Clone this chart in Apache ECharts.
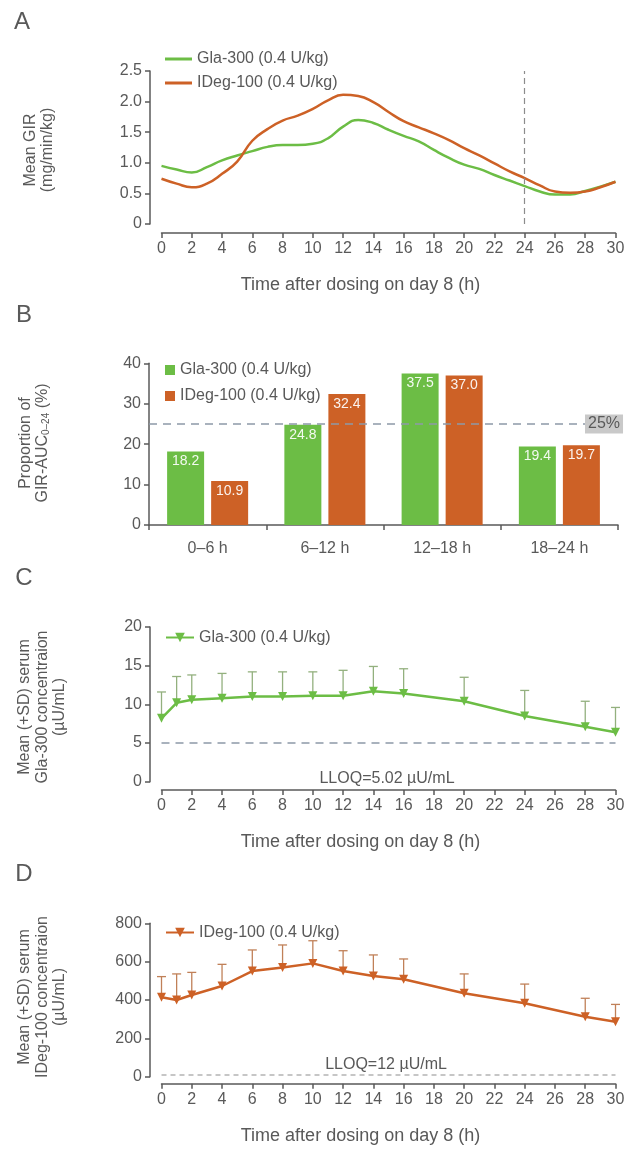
<!DOCTYPE html>
<html><head><meta charset="utf-8">
<script src="https://cdn.jsdelivr.net/npm/echarts@6/dist/echarts.min.js"></script>
<style>html,body{margin:0;padding:0;background:#fff;width:628px;height:1150px;overflow:hidden}.p{position:absolute;left:0;width:628px;}</style>
</head><body>
<div id="a" class="p" style="top:0;height:295px"></div>
<div id="b" class="p" style="top:295px;height:265px"></div>
<div id="c" class="p" style="top:560px;height:300px"></div>
<div id="d" class="p" style="top:860px;height:290px"></div>
<script>
// ---------- data ----------
const GLA = 'Gla-300 (0.4 U/kg)';
const IDEG = 'IDeg-100 (0.4 U/kg)';
const hoursA = [0,1,2,3,4,5,6,7,8,9,10,11,12,13,14,15,16,17,18,19,20,21,22,23,24,25,26,27,28,29,30];
const girGla = [0.95,0.89,0.84,0.93,1.04,1.12,1.19,1.26,1.29,1.29,1.31,1.40,1.59,1.70,1.65,1.54,1.44,1.35,1.21,1.08,0.97,0.90,0.80,0.71,0.62,0.53,0.48,0.48,0.54,0.61,0.69];
const girIDeg = [0.74,0.66,0.60,0.66,0.82,1.02,1.36,1.55,1.69,1.77,1.88,2.02,2.11,2.09,1.99,1.83,1.68,1.58,1.48,1.37,1.24,1.12,0.99,0.86,0.75,0.63,0.53,0.51,0.53,0.60,0.69];
const aucCategories = ['0–6 h','6–12 h','12–18 h','18–24 h'];
const aucGla = [18.2, 24.8, 37.5, 19.4];
const aucIDeg = [10.9, 32.4, 37.0, 19.7];
const aucReference = 25;
const pkHours = [0,1,2,4,6,8,10,12,14,16,20,24,28,30];
const glaMean = [8.2,10.2,10.6,10.8,11.0,11.0,11.1,11.1,11.7,11.4,10.4,8.5,7.1,6.4];
const glaUpper = [11.6,13.6,13.8,14.0,14.2,14.2,14.2,14.4,14.9,14.6,13.5,11.8,10.4,9.6];
const glaLLOQ = 5.02;
const idegMean = [414,400,426,473,551,570,591,551,525,508,435,383,313,287];
const idegUpper = [522,536,544,586,661,687,709,657,635,614,536,483,409,377];
const idegLLOQ = 12;
const xTitle = 'Time after dosing on day 8 (h)';

// ---------- styles ----------
const GREEN = '#6cbd45', ORANGE = '#cd6126', TXT = '#595959', AX = '#5a5a5a';
const FONT = '"Liberation Sans", Arial, sans-serif';

function timeAxis(offset){
  return {type:'value', min:0, max:30, interval:2, offset:offset,
    axisLine:{show:true,onZero:false,lineStyle:{color:AX,width:1.5}},
    axisTick:{show:true,length:5,lineStyle:{color:AX,width:1.5}},
    axisLabel:{color:TXT,fontSize:16,fontFamily:FONT,margin:8},
    splitLine:{show:false},
    name:xTitle, nameLocation:'middle', nameGap:43,
    nameTextStyle:{color:TXT,fontSize:18,fontFamily:FONT,padding:[0,56,0,0]}};
}
function valAxis(min,max,interval,offset,fmt){
  return {type:'value', min:min, max:max, interval:interval, offset:offset,
    axisLine:{show:true,onZero:false,lineStyle:{color:AX,width:1.5}},
    axisTick:{show:true,length:5,lineStyle:{color:AX,width:1.5}},
    axisLabel:{color:TXT,fontSize:16,fontFamily:FONT,margin:8,formatter:fmt},
    splitLine:{show:false}};
}
function letter(t,x,y){
  return {type:'text', x:x, y:y, style:{text:t, font:'24px '+FONT, fill:TXT, textAlign:'center', textVerticalAlign:'middle', align:'center', verticalAlign:'middle'}};
}
function ytitle(t,x,y,rich){
  return {type:'text', x:x, y:y, rotation:Math.PI/2, style:{text:t, font:'16px '+FONT, fill:TXT, textAlign:'center', textVerticalAlign:'middle', align:'center', verticalAlign:'middle', lineHeight:17.5, rich:rich}};
}
function note(t,x,y){
  return {type:'text', x:x, y:y, style:{text:t, font:'16px '+FONT, fill:TXT, textAlign:'center', textVerticalAlign:'middle', align:'center', verticalAlign:'middle'}};
}
function legend(top, opts){
  return Object.assign({left:160, top:top, orient:'vertical', itemGap:8, itemWidth:28, itemHeight:14,
    textStyle:{color:TXT,fontSize:16,fontFamily:FONT,lineHeight:15}}, opts||{});
}
function errorBars(name, xs, mean, upper, color){
  return {type:'custom', name:name+' SD', silent:true, z:1,
    data: xs.map((h,i)=>[h, mean[i], upper[i]]),
    encode:{x:0, y:[1,2]},
    renderItem:function(params, api){
      const p0 = api.coord([api.value(0), api.value(1)]);
      const p1 = api.coord([api.value(0), api.value(2)]);
      const st = {stroke:color, lineWidth:1.3};
      return {type:'group', children:[
        {type:'line', shape:{x1:p0[0],y1:p0[1],x2:p1[0],y2:p1[1]}, style:st},
        {type:'line', shape:{x1:p1[0]-4.5,y1:p1[1],x2:p1[0]+4.5,y2:p1[1]}, style:st}
      ]};
    }};
}
const gridBase = {containLabel:false, outerBoundsMode:'none'};

// ---------- Panel A ----------
const chartA = echarts.init(document.getElementById('a'));
chartA.setOption({
  animation:false,
  grid:Object.assign({left:161.5, right:12.5, top:71, height:153}, gridBase),
  legend:legend(46, {icon:'rect', itemWidth:27, itemHeight:3, data:[GLA, IDEG]}),
  xAxis:timeAxis(9),
  yAxis:valAxis(0,2.5,0.5,11.5,v=>v===0?'0':v.toFixed(1)),
  series:[
    {type:'line', name:GLA, data:hoursA.map((h,i)=>[h,girGla[i]]), smooth:true, symbol:'none',
     lineStyle:{width:2.5,color:GREEN}, itemStyle:{color:GREEN},
     markLine:{silent:true, symbol:'none', label:{show:false}, lineStyle:{color:'#8c8c8c',type:[6,4],width:1.2}, data:[{xAxis:24}]}},
    {type:'line', name:IDEG, data:hoursA.map((h,i)=>[h,girIDeg[i]]), smooth:true, symbol:'none',
     lineStyle:{width:2.5,color:ORANGE}, itemStyle:{color:ORANGE}}
  ],
  graphic:[letter('A',22,22), ytitle('Mean GIR\n(mg/min/kg)',39,150)]
});

// ---------- Panel B ----------
const chartB = echarts.init(document.getElementById('b'));
const barLabel = {show:true, position:'insideTop', distance:3, color:'rgba(255,255,255,0.92)', fontSize:14, fontFamily:FONT, formatter:p=>p.value.toFixed(1)};
chartB.setOption({
  animation:false,
  grid:Object.assign({left:149, right:10, top:68.3, height:161.7}, gridBase),
  legend:legend(62, {icon:'rect', itemWidth:10, itemHeight:10, itemGap:10, textStyle:{color:TXT,fontSize:16,fontFamily:FONT,lineHeight:14}, data:[GLA, IDEG]}),
  xAxis:{type:'category', data:aucCategories,
    axisLine:{show:true,onZero:false,lineStyle:{color:AX,width:1.5}},
    axisTick:{show:true,length:5,alignWithLabel:false,lineStyle:{color:AX,width:1.5}},
    axisLabel:{color:TXT,fontSize:16,fontFamily:FONT,margin:16}},
  yAxis:valAxis(0,40,10,0),
  series:[
    {type:'bar', name:GLA, data:aucGla, barWidth:37, barGap:'19%', itemStyle:{color:GREEN}, label:barLabel,
     markLine:{silent:true, symbol:'none', z:10, lineStyle:{color:'#8d99a8',type:[8,6],width:1.5},
       label:{show:true, formatter:'25%', position:'end', distance:-33, backgroundColor:'#c9c9c9', color:TXT, fontSize:16, fontFamily:FONT, padding:[2,3,1,3]},
       data:[{yAxis:aucReference}]}},
    {type:'bar', name:IDEG, data:aucIDeg, barWidth:37, barGap:'19%', itemStyle:{color:ORANGE}, label:barLabel}
  ],
  graphic:[letter('B',24,20), ytitle('Proportion of\n{a|GIR-AUC}{s|0–24}{a| (%)}',34,148,
    {a:{fontSize:16,fontFamily:FONT,fill:TXT,lineHeight:17.5}, s:{fontSize:10,fontFamily:FONT,fill:TXT,lineHeight:6,verticalAlign:'bottom'}})]
});

// ---------- Panel C ----------
const chartC = echarts.init(document.getElementById('c'));
chartC.setOption({
  animation:false,
  grid:Object.assign({left:161.5, right:12.5, top:67, height:154.7}, gridBase),
  legend:legend(64.5, {itemHeight:12, data:[GLA]}),
  xAxis:timeAxis(8.3),
  yAxis:valAxis(0,20,5,11.5),
  series:[
    errorBars(GLA, pkHours, glaMean, glaUpper, '#93b07e'),
    {type:'line', name:GLA, z:3, data:pkHours.map((h,i)=>[h,glaMean[i]]), symbol:'triangle', symbolRotate:180, symbolSize:9,
     lineStyle:{width:2.5,color:GREEN}, itemStyle:{color:GREEN},
     markLine:{silent:true, symbol:'none', label:{show:false}, lineStyle:{color:'#8d99a8',type:[8,6],width:1.5}, data:[{yAxis:glaLLOQ}]}}
  ],
  graphic:[letter('C',24,18), ytitle('Mean (+SD) serum\nGla-300 concentraion\n(µU/mL)',42.5,147), note('LLOQ=5.02 µU/mL',387,219)]
});

// ---------- Panel D ----------
const chartD = echarts.init(document.getElementById('d'));
chartD.setOption({
  animation:false,
  grid:Object.assign({left:161.5, right:12.5, top:63.3, height:153.4}, gridBase),
  legend:legend(59.5, {itemHeight:12, data:[IDEG]}),
  xAxis:timeAxis(7),
  yAxis:valAxis(0,800,200,11.5),
  series:[
    errorBars(IDEG, pkHours, idegMean, idegUpper, '#c08058'),
    {type:'line', name:IDEG, z:3, data:pkHours.map((h,i)=>[h,idegMean[i]]), symbol:'triangle', symbolRotate:180, symbolSize:9,
     lineStyle:{width:2.5,color:ORANGE}, itemStyle:{color:ORANGE},
     markLine:{silent:true, symbol:'none', label:{show:false}, lineStyle:{color:'#b4b4b4',type:[5,4],width:1.5}, data:[{yAxis:idegLLOQ}]}}
  ],
  graphic:[letter('D',24,14), ytitle('Mean (+SD) serum\nIDeg-100 concentraion\n(µU/mL)',42.5,137), note('LLOQ=12 µU/mL',386,205)]
});
</script>
</body></html>
